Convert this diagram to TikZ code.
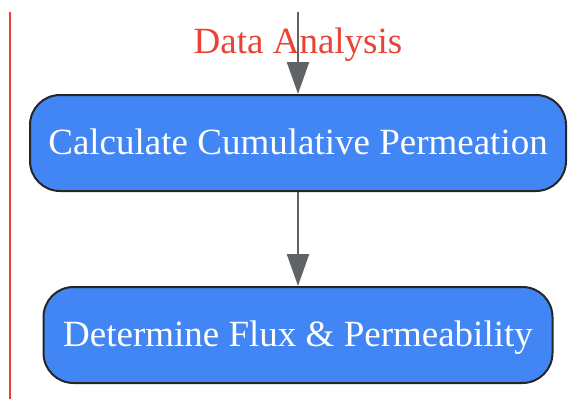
\documentclass[tikz,border=0pt]{standalone}
\usepackage{fontspec}
\setmainfont{Liberation Serif}
\usepackage{xcolor}
\usetikzlibrary{arrows.meta}
\definecolor{step-blue}{HTML}{4285F4}
\definecolor{lane-red}{HTML}{EA4335}
\definecolor{flow-gray}{HTML}{5F6368}
\tikzset{
    step-box/.style = {draw=black!85, fill=step-blue, line width=2pt, rectangle, rounded corners=30pt, text=white, font=\fontsize{37}{42}\selectfont, minimum height=96pt, inner sep=0pt, text depth=2pt},
    flow-arrow/.style = {draw=flow-gray, line width=2.2pt, -{Triangle[length=32pt, width=22pt]}},
}

\begin{document}
\begin{tikzpicture}[x=1pt, y=-1pt]
\useasboundingbox (0,0) rectangle (583,399);
\draw[lane-red, line width=2pt] (10,12) -- (10,399);
\node[text=lane-red, font=\fontsize{37}{42}\selectfont] (title) at (298,45) {Data Analysis};
\node[step-box, minimum width=536pt] (cumulative) at (298,143) {Calculate Cumulative Permeation};
\node[step-box, minimum width=509pt] (flux) at (298,335) {Determine Flux \& Permeability};
\coordinate (entry) at (298,12);
\draw[flow-arrow] (entry) -- (cumulative.north);
\draw[flow-arrow] (cumulative) -- (flux);
\end{tikzpicture}
\end{document}
